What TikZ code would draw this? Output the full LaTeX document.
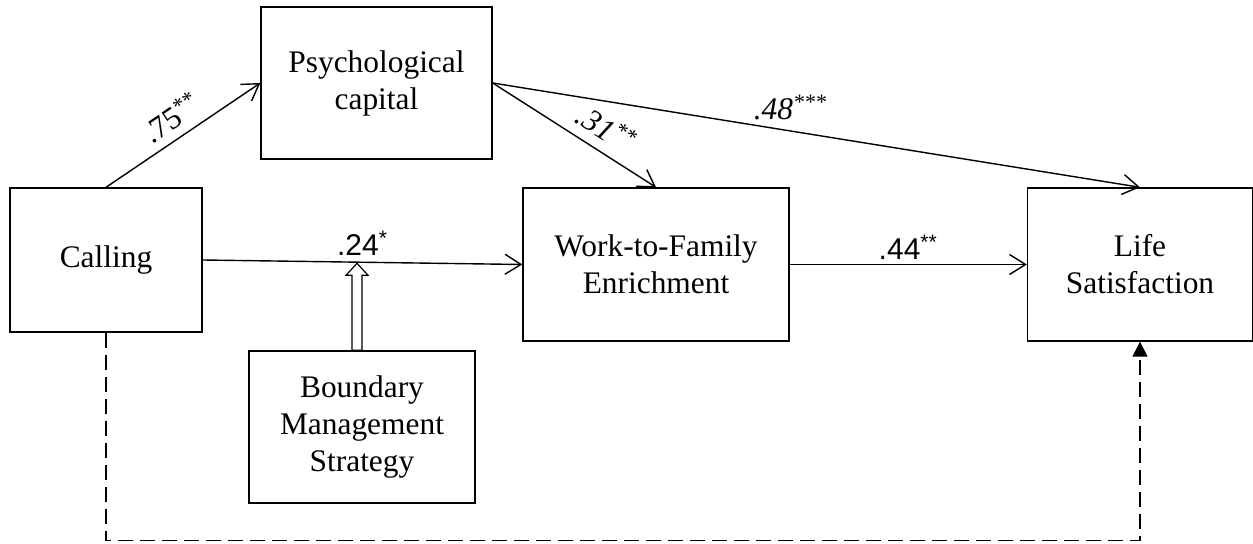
\documentclass[tikz,border=0pt]{standalone}
\usepackage{fontspec}
\setmainfont{Liberation Serif}
\newfontfamily\labsans{Liberation Sans}
\usetikzlibrary{arrows.meta,calc}
\tikzset{
  box/.style={draw, line width=0.7pt, align=center, inner sep=0pt,
    font=\fontsize{15.7}{18.5}\selectfont},
  path/.style={line width=0.7pt, -{Straight Barb[length=8pt,width=10pt,line width=0.7pt]}},
  dpath/.style={line width=0.8pt, dash pattern=on 7.5pt off 3.5pt, -{Triangle[length=7.5pt,width=7.5pt]}},
  coef/.style={font=\fontsize{15.7}{18}\selectfont, inner sep=1pt},
  coefs/.style={font=\labsans\fontsize{15}{18}\selectfont, inner sep=1pt},
}
\begin{document}
\begin{tikzpicture}[x=0.5pt,y=-0.5pt]
\useasboundingbox (0,0) rectangle (1253,544);
\node[box, minimum width=96pt, minimum height=72pt] (call) at (106,260) {Calling};
\node[box, minimum width=115.5pt, minimum height=76pt] (psy) at (376.5,83) {Psychological\\capital};
\node[box, minimum width=133pt, minimum height=76.5pt] (wfe) at (656,264.5) {Work-to-Family\\Enrichment};
\node[box, minimum width=112.5pt, minimum height=76.5pt] (ls) at (1140,264.5) {Life\\Satisfaction};
\node[box, minimum width=113pt, minimum height=76pt] (bms) at (362,427) {Boundary\\Management\\Strategy};

\draw[path] (call.north) -- node[coef, sloped, above, pos=0.5, yshift=3pt] {.75\textsuperscript{**}} (psy.west);
\draw[path] (call.east) -- node[coefs, above, pos=0.5, yshift=2pt] {.24\textsuperscript{*}} (wfe.west);
\draw[path] (psy.east) -- node[coef, sloped, above, pos=0.62, yshift=4pt] {\itshape .31\textsuperscript{**}} (wfe.north);
\draw[path] (psy.east) -- node[coef, above, pos=0.46, yshift=4pt] {\itshape .48\textsuperscript{***}} (ls.north);
\draw[path] (wfe.east) -- node[coefs, above, pos=0.5, yshift=1pt] {.44\textsuperscript{**}} (ls.west);

\coordinate (d1) at ($(call.south)+(0,208)$);
\draw[dpath] (call.south) -- (d1) -| (ls.south);

\coordinate (ht) at ($(bms.north)+(-5,-87)$);
\draw[line width=0.6pt, fill=white]
  ($(bms.north)+(-10,0)$) -- ++(0,-75) -- ++(-6,0) -- (ht)
  -- ($(bms.north)+(6,-75)$) -- ++(-6,0) -- ($(bms.north)+(0,0)$) -- cycle;
\end{tikzpicture}
\end{document}
